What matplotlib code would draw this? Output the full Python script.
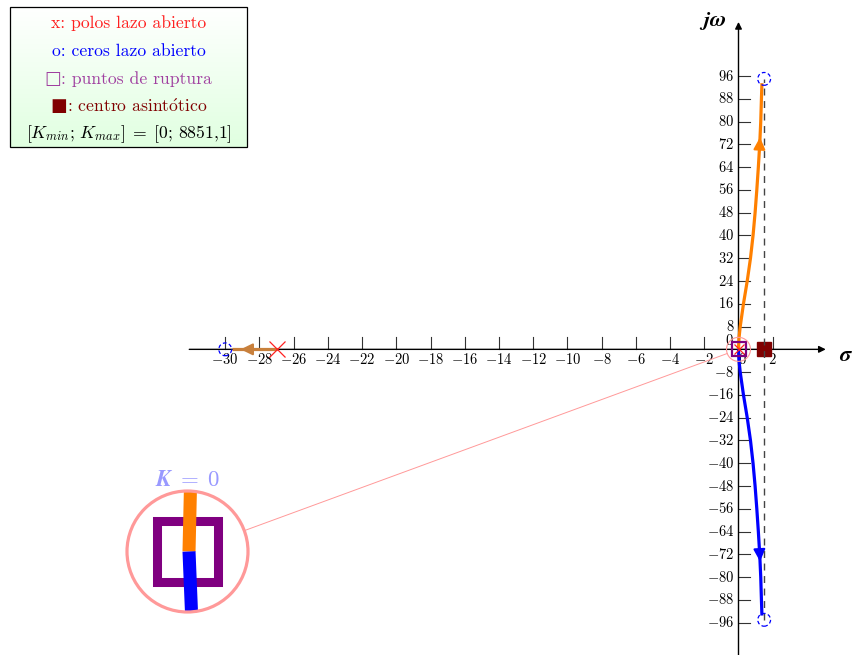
import numpy as np
import matplotlib.pyplot as plt
from matplotlib.patches import Ellipse, Rectangle, Circle

plt.rcParams['mathtext.fontset'] = 'cm'

# --- datos del lugar de las raíces ---
polos_re = [-27.0, 0.0]
polos_im = [0.0, 0.0]
ceros_re = [-30.0, 1.5, 1.5]
ceros_im = [0.0, 95.0, -95.0]
ruptura_re = [0.0]
ruptura_im = [0.0]
centro_asint = 1.5
k_min, k_max = 0, 8851.1

# rama superior (naranja) desde el polo doble en el origen hacia el cero complejo
rama_sup_re = [0.0, 0.03, 0.10, 0.29, 0.51, 0.70, 0.85, 0.97, 1.07, 1.16, 1.24, 1.30, 1.34, 1.37]
rama_sup_im = [0.0, 4.0, 8.0, 16.0, 24.0, 32.0, 40.0, 48.0, 56.0, 64.0, 72.0, 80.0, 88.0, 93.5]
# rama inferior (azul), conjugada
rama_inf_re = rama_sup_re
rama_inf_im = [-v for v in rama_sup_im]
# rama real (marrón) del polo en -27 al cero en -30
rama_real_re = [-27.0, -29.63]
rama_real_im = [0.0, 0.0]

xticks = [v for v in range(-30, 4, 2) if v != 0]
yticks = [v for v in range(-96, 97, 8) if v != 0]

NARANJA = '#ff8000'
AZUL = '#0000ff'
MARRON = '#c8803c'
PURPURA = '#800080'
GRANATE = '#800000'
ROSA = '#ff9999'

W, H = 852, 655
fig = plt.figure(figsize=(W / 100, H / 100), dpi=100)
ax = fig.add_axes([0, 0, 1, 1])
# escala: 0 en x=738.5 px, 17.11 px/unidad; 0 en y=349.35 px, 2.847 px/unidad
sx, sy = 17.11, 2.847
x0, y0 = 738.5, 349.35
ax.set_xlim(-x0 / sx, (W - x0) / sx)
ax.set_ylim(-(H - y0) / sy, y0 / sy)
ax.axis('off')


def px2d(px, py):
    return (px - x0) / sx, (y0 - py) / sy


# ejes con flecha
ax.annotate('', xy=(5.1, 0), xytext=(-32.1, 0),
            arrowprops=dict(arrowstyle='-|>', color='black', lw=1.0,
                            mutation_scale=10, shrinkA=0, shrinkB=0))
ax.annotate('', xy=(0, 115), xytext=(0, -110),
            arrowprops=dict(arrowstyle='-|>', color='black', lw=1.0,
                            mutation_scale=10, shrinkA=0, shrinkB=0))

# marcas y etiquetas
for t in xticks:
    ax.plot([t, t], [0, 12 / sy], color='#333333', lw=0.8)
    ax.text(t, -3.6, r'$%d$' % t, ha='center', va='center', fontsize=10.5)
ax.text(0.25, -3.6, r'$0$', ha='center', va='center', fontsize=10.5)
for t in yticks:
    ax.plot([0, 11 / sx], [t, t], color='#333333', lw=0.8)
    ax.text(-0.25, t, r'$%d$' % t, ha='right', va='center', fontsize=10.5)
ax.text(-0.25, 3.0, r'$0$', ha='right', va='center', fontsize=10.5)

ax.text(6.3, -2.0, r'$\boldsymbol{\sigma}$', ha='center', va='center', fontsize=16)
ax.text(-1.5, 115.5, r'$\boldsymbol{j\omega}$', ha='center', va='center', fontsize=16)

# asíntota
ax.plot([centro_asint, centro_asint], [-95, 95], color='#444444', lw=1.0,
        dashes=(5, 4), zorder=6)

# ramas
ax.plot(rama_sup_re, rama_sup_im, color=NARANJA, lw=2.3, zorder=4, solid_capstyle='butt')
ax.plot(rama_inf_re, rama_inf_im, color=AZUL, lw=2.3, zorder=4, solid_capstyle='butt')
ax.plot(rama_real_re, rama_real_im, color=MARRON, lw=2.3, zorder=4, solid_capstyle='butt')


def flecha(xb, yb, xt, yt, c):
    ax.annotate('', xy=(xt, yt), xytext=(xb, yb),
                arrowprops=dict(arrowstyle='-|>,head_length=0.45,head_width=0.22',
                                color=c, lw=1.5, mutation_scale=16,
                                shrinkA=0, shrinkB=0), zorder=5)


flecha(np.interp(70, rama_sup_im, rama_sup_re), 70,
       np.interp(74.5, rama_sup_im, rama_sup_re), 74.5, NARANJA)
flecha(np.interp(70, rama_sup_im, rama_sup_re), -70,
       np.interp(74.5, rama_sup_im, rama_sup_re), -74.5, AZUL)
flecha(-28.4, 0, -29.1, 0, MARRON)

# polos y ceros
ax.plot(polos_re[:1], polos_im[:1], 'x', color='#ff2020', ms=12, mew=0.9, zorder=7)
ax.plot(polos_re[1:], polos_im[1:], 'x', color='#ff2020', ms=7.5, mew=0.9, zorder=7)
for zr, zi in zip(ceros_re, ceros_im):
    ax.add_patch(Ellipse((zr, zi), 12.8 / sx, 12.8 / sy, fill=False, ec=AZUL,
                         lw=0.9, ls=(0, (3, 2)), zorder=7))

# punto de ruptura y centro asintótico
ax.plot(ruptura_re, ruptura_im, 's', mfc='none', mec=PURPURA, ms=10.5, mew=1.6, zorder=8)
ax.plot([centro_asint], [0], 's', color=GRANATE, ms=10, zorder=5)

# lupa
cz = (738.5, 349.35)
cl = (187.5, 551.5)
rz, rl = 12.0, 60.5
ax.add_patch(Ellipse((0, 0), 2 * rz / sx, 2 * rz / sy, fill=False, ec=ROSA, lw=0.8, zorder=8))
d = np.array(cl) - np.array(cz)
d = d / np.hypot(*d)
p1 = np.array(cz) + d * rz
p2 = np.array(cl) - d * rl
a1, a2 = px2d(*p1), px2d(*p2)
ax.plot([a1[0], a2[0]], [a1[1], a2[1]], color=ROSA, lw=0.7, zorder=8)

axl = fig.add_axes([(cl[0] - rl) / W, (H - cl[1] - rl) / H, 2 * rl / W, 2 * rl / H])
axl.set_xlim(-1, 1)
axl.set_ylim(-1, 1)
axl.axis('off')
clip = Circle((0, 0), 1, transform=axl.transData)
axl.add_patch(Rectangle((-0.5, -0.5), 1, 1, fill=False, ec=PURPURA, lw=6.5, zorder=2))
l1, = axl.plot([0.025, 0.05], [0, 1.1], color=NARANJA, lw=9.4, solid_capstyle='butt', zorder=3)
l2, = axl.plot([0.025, 0.07], [0, -1.1], color=AZUL, lw=9.4, solid_capstyle='butt', zorder=3)
l1.set_clip_path(clip)
l2.set_clip_path(clip)
axl.add_patch(Circle((0, 0), 1, fill=False, ec=ROSA, lw=2.3, clip_on=False, zorder=4))
axl.text(0.0, 1.19, r'$\boldsymbol{K}\;\boldsymbol{=}\;\boldsymbol{0}$', color='#9999ff',
         ha='center', va='center', fontsize=16.5, clip_on=False)

# cuadro de leyenda con degradado
bx0, by0, bx1, by1 = 10, 7, 247, 147
axb = fig.add_axes([bx0 / W, (H - by1) / H, (bx1 - bx0) / W, (by1 - by0) / H])
axb.set_xlim(0, bx1 - bx0)
axb.set_ylim(by1, by0)
axb.axis('off')
grad = np.linspace(0, 1, 100).reshape(-1, 1)
top = np.array([1.0, 1.0, 1.0])
bot = np.array([0.88, 1.0, 0.88])
img = top + (bot - top) * grad[:, :, None]
axb.imshow(img, extent=[0, bx1 - bx0, by1, by0], aspect='auto')
axb.add_patch(Rectangle((0, by0), bx1 - bx0, by1 - by0, fill=False, ec='black',
                        lw=0.9, clip_on=False))
fam = ['cmr10', 'DejaVu Sans']
lineas = [
    ('', 'x: polos lazo abierto', '#ff2020'),
    ('', 'o: ceros lazo abierto', AZUL),
    ('\u25a1', ': puntos de ruptura', '#a040a0'),
    ('\u25a0', ': centro asint$\\mathrm{\\acute{o}}$tico', GRANATE),
]
ys_px = [23, 51, 79, 106]
renderer = fig.canvas.get_renderer()
cx = (bx1 - bx0) / 2
for (sim, txt, c), yp in zip(lineas, ys_px):
    t = axb.text(0, yp, txt, color=c, ha='left', va='center', fontsize=12.7, family=fam)
    ws = 0.0
    if sim:
        s = axb.text(0, yp, sim, color=c, ha='left', va='center', fontsize=12.7,
                     family='DejaVu Sans')
        ws = s.get_window_extent(renderer).width
    wt = t.get_window_extent(renderer).width
    izq = cx - (ws + wt) / 2
    if sim:
        s.set_x(izq)
    t.set_x(izq + ws)
axb.text(cx, 134,
         r'$[K_{min};\,K_{max}]\;=\;[%d;\,%s]$' % (k_min, str(k_max).replace('.', '{,}')),
         ha='center', va='center', fontsize=12.7)

fig.savefig('out.png', dpi=100)
